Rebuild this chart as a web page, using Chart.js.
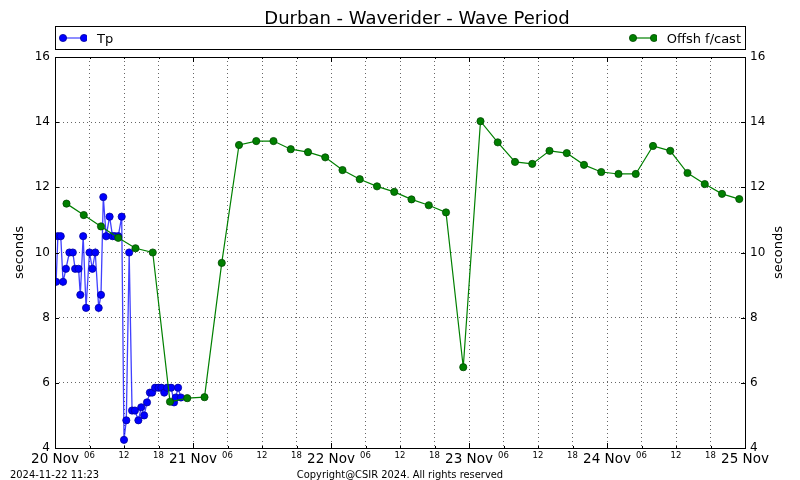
<!DOCTYPE html>
<html>
<head>
<meta charset="utf-8">
<title>Durban - Waverider - Wave Period</title>
<script src="https://cdn.jsdelivr.net/npm/chart.js@4.4.1/dist/chart.umd.min.js"></script>
<style>
html, body { margin: 0; padding: 0; background: #fff; }
#wrap { position: relative; width: 800px; height: 480px; overflow: hidden; font-family: "DejaVu Sans", sans-serif; color: #000; }
#chart { position: absolute; left: 0; top: 0; }
#title { position: absolute; left: 17px; top: 7px; width: 800px; text-align: center; font-size: 18px; line-height: 22px; }
#legend { position: absolute; left: 55px; top: 26px; width: 691px; height: 24px; box-sizing: border-box; border: 1px solid #000;
	display: flex; justify-content: space-between; align-items: center; padding: 0 4px 0 3px; font-size: 13px; background: #fff; }
#legend .item { display: flex; align-items: center; }
#legend svg { margin-right: 10px; }
#stamp { position: absolute; left: 10px; top: 468px; font-family: "DejaVu Sans Condensed", "DejaVu Sans", sans-serif; font-size: 11px; }
#copy { position: absolute; left: 0; width: 800px; top: 468px; text-align: center; font-family: "DejaVu Sans Condensed", "DejaVu Sans", sans-serif; font-size: 11px; }
</style>
</head>
<body>
<div id="wrap">
	<canvas id="chart" width="800" height="480"></canvas>
	<div id="title">Durban - Waverider - Wave Period</div>
	<div id="legend"></div>
	<div id="stamp">2024-11-22 11:23</div>
	<div id="copy">Copyright@CSIR 2024. All rights reserved</div>
</div>
<script>
// hours since 20 Nov 00:00
var tpHours  = [0.2, 0.5, 1.0, 1.4, 1.9, 2.5, 3.1, 3.5, 4.1, 4.4, 4.9, 5.4, 6.0, 6.5, 7.0, 7.6, 8.0, 8.4, 8.9, 9.5,
	10.0, 10.4, 11.0, 11.6, 12.0, 12.4, 12.9, 13.4, 13.9, 14.5, 15.0, 15.5, 16.0, 16.5, 16.9, 17.4, 18.0, 18.5, 19.0, 19.5,
	20.2, 20.7, 21.0, 21.4, 21.9]
var tpValues = [9.1, 10.5, 10.5, 9.1, 9.5, 10.0, 10.0, 9.5, 9.5, 8.7, 10.5, 8.3, 10.0, 9.5, 10.0, 8.3, 8.7, 11.7, 10.5, 11.1,
	10.5, 10.5, 10.5, 11.1, 4.25, 4.85, 10.0, 5.15, 5.15, 4.85, 5.25, 5.0, 5.4, 5.7, 5.7, 5.85, 5.85, 5.85, 5.7, 5.85,
	5.85, 5.4, 5.55, 5.85, 5.55]

var fcHours  = [2, 5, 8, 11, 14, 17, 20, 23, 26, 29, 32, 35, 38, 41, 44, 47, 50, 53, 56, 59,
	62, 65, 68, 71, 74, 77, 80, 83, 86, 89, 92, 95, 98, 101, 104, 107, 110, 113, 116, 119]
var fcValues = [11.5, 11.15, 10.8, 10.45, 10.13, 10.0, 5.42, 5.53, 5.56, 9.68, 13.3, 13.42, 13.42, 13.17, 13.08, 12.92, 12.53, 12.25, 12.03, 11.86,
	11.63, 11.45, 11.23, 6.48, 14.03, 13.38, 12.78, 12.72, 13.12, 13.05, 12.69, 12.47, 12.41, 12.41, 13.27, 13.12, 12.44, 12.1, 11.8, 11.64]

var dayLabels  = ['20 Nov', '21 Nov', '22 Nov', '23 Nov', '24 Nov', '25 Nov']
var hourLabels = { 6: '06', 12: '12', 18: '18' }
var yTicks = [4, 6, 8, 10, 12, 14, 16]

function pairs(xs, ys) {
	var out = []
	for (var i = 0; i < xs.length; i++) out.push({ x: xs[i], y: ys[i] })
	return out
}

var font = '"DejaVu Sans", sans-serif'

// inward ticks, the box round the axes and the right hand axis title
var framePlugin = {
	id: 'frame',
	afterDraw: function (chart) {
		var ctx = chart.ctx, a = chart.chartArea
		var xs = chart.scales.x, ys = chart.scales.y
		ctx.save()
		ctx.strokeStyle = '#000'
		ctx.lineWidth = 1
		ctx.beginPath()
		xs.ticks.forEach(function (t) {
			var px = Math.round(xs.getPixelForValue(t.value)) + 0.5
			var len = t.value % 24 === 0 ? 5 : 2
			ctx.moveTo(px, a.bottom); ctx.lineTo(px, a.bottom - len)
			ctx.moveTo(px, a.top); ctx.lineTo(px, a.top + len)
		})
		ys.ticks.forEach(function (t) {
			var py = Math.round(ys.getPixelForValue(t.value)) + 0.5
			ctx.moveTo(a.left, py); ctx.lineTo(a.left + 4, py)
			ctx.moveTo(a.right, py); ctx.lineTo(a.right - 4, py)
		})
		ctx.stroke()
		ctx.strokeRect(Math.round(a.left) + 0.5, Math.round(a.top) + 0.5, Math.round(a.right - a.left), Math.round(a.bottom - a.top))

		ctx.translate(779, (a.top + a.bottom) / 2)
		ctx.rotate(-Math.PI / 2)
		ctx.font = '13px ' + font
		ctx.fillStyle = '#000'
		ctx.textAlign = 'center'
		ctx.textBaseline = 'middle'
		ctx.fillText('seconds', 0, 0)
		ctx.restore()
	}
}

var gridOpts = { color: '#666', drawTicks: false, lineWidth: 1 }

var chart = new Chart(document.getElementById('chart'), {
	type: 'line',
	data: {
		datasets: [
			{
				label: 'Tp',
				data: pairs(tpHours, tpValues),
				borderColor: 'rgba(0, 0, 255, 0.75)',
				borderWidth: 1.3,
				pointBackgroundColor: '#0000ff',
				pointBorderColor: '#0000a0',
				pointBorderWidth: 0.8,
				pointRadius: 3.6,
				tension: 0,
				order: 2
			},
			{
				label: 'Offsh f/cast',
				data: pairs(fcHours, fcValues),
				borderColor: '#008000',
				borderWidth: 1.2,
				pointBackgroundColor: '#008000',
				pointBorderColor: '#004a00',
				pointBorderWidth: 0.8,
				pointRadius: 3.6,
				tension: 0,
				order: 1
			}
		]
	},
	options: {
		responsive: false,
		animation: false,
		devicePixelRatio: 1,
		layout: { padding: { top: 57, left: 0, right: 0, bottom: 0 } },
		plugins: { legend: { display: false }, tooltip: { enabled: false }, title: { display: false } },
		scales: {
			x: {
				type: 'linear',
				min: 0, max: 120,
				grid: gridOpts,
				border: { display: false, dash: [1, 3] },
				afterFit: function (s) { s.height = 32 },
				ticks: {
					stepSize: 6, autoSkip: false, maxRotation: 0, padding: 3, color: '#000',
					callback: function (v) {
						return v % 24 === 0 ? dayLabels[v / 24] : hourLabels[v % 24]
					},
					font: function (c) {
						var major = c.tick && c.tick.value % 24 === 0
						return { family: font, size: major ? 13.5 : 8.5 }
					}
				}
			},
			y: {
				position: 'left',
				min: 4, max: 16,
				grid: gridOpts,
				border: { display: false, dash: [1, 3] },
				afterFit: function (s) { s.width = 55 },
				afterBuildTicks: function (s) { s.ticks = yTicks.map(function (v) { return { value: v } }) },
				ticks: { padding: 5, color: '#000', font: { family: font, size: 12 } },
				title: { display: true, text: 'seconds', color: '#000', font: { family: font, size: 13 }, padding: { top: 12, bottom: 0 } }
			},
			y2: {
				position: 'right',
				min: 4, max: 16,
				grid: { display: false, drawTicks: false },
				border: { display: false },
				afterFit: function (s) { s.width = 55 },
				afterBuildTicks: function (s) { s.ticks = yTicks.map(function (v) { return { value: v } }) },
				ticks: { padding: 5, color: '#000', font: { family: font, size: 12 } }
			}
		}
	},
	plugins: [framePlugin]
})

// legend in one box: first series on the left, second on the right
var legend = document.getElementById('legend')
chart.data.datasets.forEach(function (ds) {
	var item = document.createElement('div')
	item.className = 'item'
	var c = ds.pointBackgroundColor, e = ds.pointBorderColor
	item.innerHTML = '<svg width="28" height="10">' +
		'<line x1="4" y1="5" x2="25" y2="5" stroke="' + ds.borderColor + '" stroke-width="1.2"/>' +
		'<circle cx="4" cy="5" r="3.6" fill="' + c + '" stroke="' + e + '" stroke-width="0.8"/>' +
		'<circle cx="25" cy="5" r="3.6" fill="' + c + '" stroke="' + e + '" stroke-width="0.8"/></svg>' +
		'<span>' + ds.label + '</span>'
	legend.appendChild(item)
})
</script>
</body>
</html>
